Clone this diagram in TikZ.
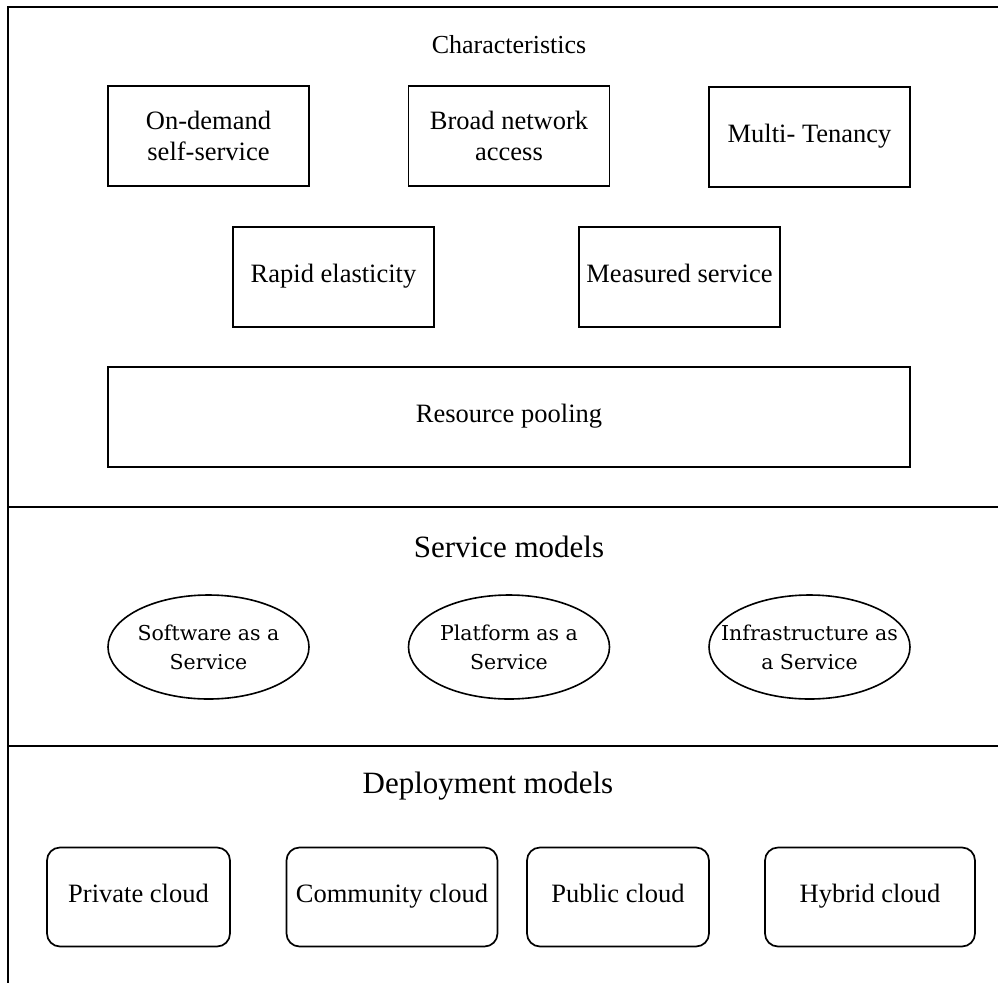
\documentclass[tikz,border=0pt]{standalone}
\usepackage{fontspec}
\setmainfont{Liberation Serif}
\newfontfamily\ovalfont{DejaVu Serif}
\begin{document}
\begin{tikzpicture}[x=1pt,y=-1pt,
  frame/.style={line width=1.8pt},
  boxtext/.style={font=\fontsize{26.5}{31}\selectfont},
  oneline/.style={text height=1.25em,text depth=0.22em},
  charbox/.style={draw,line width=1.7pt,minimum width=201pt,minimum height=100pt,
    align=center,inner sep=0pt,boxtext},
  ovaltext/.style={align=center,font=\ovalfont\fontsize{20.5}{29}\selectfont,inner sep=0pt},
  ovalline/.style={line width=1.6pt},
  cloudbox/.style={draw,rounded corners=13pt,line width=1.7pt,minimum height=99pt,
    align=center,inner sep=0pt,boxtext,oneline},
  heading/.style={font=\fontsize{26}{31}\selectfont},
  bigheading/.style={font=\fontsize{31}{37}\selectfont}]
\useasboundingbox (0,0) rectangle (998,983);

% outer frame and section dividers
\coordinate (tl) at (8,7);
\coordinate (tr) at (998,7);
\coordinate (bl) at (8,983);
\coordinate (d1l) at (8,507);
\coordinate (d1r) at (998,507);
\coordinate (d2l) at (8,746);
\coordinate (d2r) at (998,746);
\draw[frame] (tr) -- (tl) -- (bl);
\draw[frame] (d1l) -- (d1r);
\draw[frame] (d2l) -- (d2r);

% characteristics
\node[heading] (chartitle) at (509,45) {Characteristics};
\node[charbox] (ondemand) at (208.5,136) {On-demand\\self-service};
\node[charbox] (broad) at (509,136) {Broad network\\access};
\node[charbox,oneline] (multi) at (809.5,137) {Multi- Tenancy};
\node[charbox,oneline] (rapid) at (333.5,277) {Rapid elasticity};
\node[charbox,oneline] (measured) at (679.5,277) {Measured service};
\node[charbox,oneline,minimum width=802pt] (pooling) at (509,417) {Resource pooling};

% service models
\node[bigheading] (servtitle) at (509,547) {Service models};
\node[ovaltext] (saas) at (208.5,647) {Software as a\\Service};
\node[ovaltext] (paas) at (509,647) {Platform as a\\Service};
\node[ovaltext] (iaas) at (809.5,647) {Infrastructure as\\a Service};
\foreach \n in {saas,paas,iaas}
  \draw[ovalline] (\n.center) ellipse [x radius=100.5pt, y radius=52pt];

% deployment models
\node[bigheading] (deptitle) at (488,786) {Deployment models};
\node[cloudbox,minimum width=183pt] (private) at (138.5,897) {Private cloud};
\node[cloudbox,minimum width=211pt] (community) at (392,897) {Community cloud};
\node[cloudbox,minimum width=182pt] (public) at (618,897) {Public cloud};
\node[cloudbox,minimum width=210pt] (hybrid) at (870,897) {Hybrid cloud};
\end{tikzpicture}
\end{document}
